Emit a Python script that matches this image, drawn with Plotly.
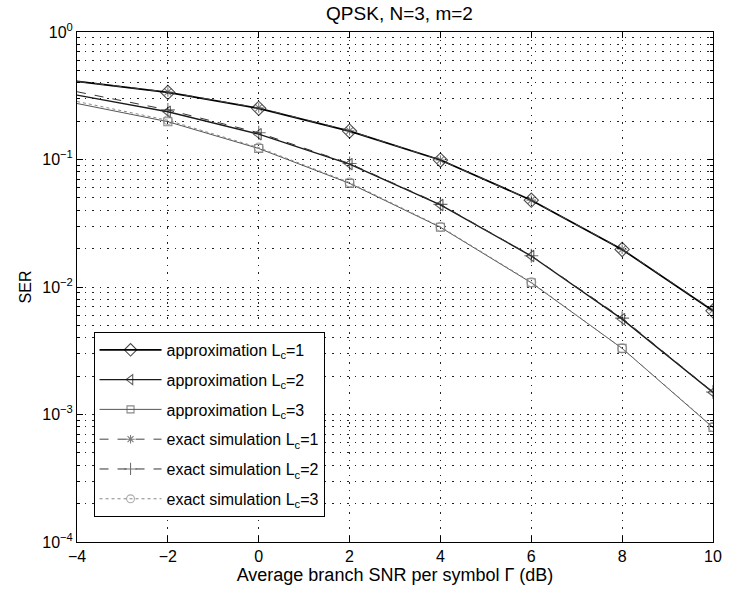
import plotly.graph_objects as go

snr_db = [-4, -2, 0, 2, 4, 6, 8, 10]
approx_L1 = [0.41, 0.336, 0.252, 0.167, 0.099, 0.048, 0.0197, 0.0065]
approx_L2 = [0.32, 0.237, 0.158, 0.092, 0.044, 0.0175, 0.0056, 0.00149]
approx_L3 = [0.275, 0.198, 0.122, 0.065, 0.0294, 0.0108, 0.0033, 0.00079]
exact_L1 = [0.41, 0.338, 0.254, 0.168, 0.099, 0.048, 0.0198, 0.0066]
exact_L2 = [0.34, 0.245, 0.162, 0.093, 0.0445, 0.0176, 0.0057, 0.0015]
exact_L3 = [0.285, 0.203, 0.124, 0.066, 0.0297, 0.0109, 0.0033, 0.0008]

names = [
    "approximation L<sub>c</sub>=1",
    "approximation L<sub>c</sub>=2",
    "approximation L<sub>c</sub>=3",
    "exact simulation L<sub>c</sub>=1",
    "exact simulation L<sub>c</sub>=2",
    "exact simulation L<sub>c</sub>=3",
]
series = [approx_L1, approx_L2, approx_L3, exact_L1, exact_L2, exact_L3]
styles = [
    dict(color="#000000", width=1.7, dash="solid", symbol="diamond-open", size=11),
    dict(color="#1a1a1a", width=1.4, dash="solid", symbol="triangle-left-open", size=10),
    dict(color="#555555", width=1.0, dash="solid", symbol="square-open", size=8),
    dict(color="#444444", width=1.0, dash="dash", symbol="asterisk-open", size=8),
    dict(color="#333333", width=1.0, dash="dash", symbol="cross-thin-open", size=10),
    dict(color="#888888", width=1.0, dash="dot", symbol="circle-open", size=9),
]

fig = go.Figure()
for i, (name, ys, st) in enumerate(zip(names, series, styles)):
    sizes = [0] + [st["size"]] * (len(snr_db) - 1)
    fig.add_trace(go.Scatter(
        x=snr_db, y=ys, name=name, mode="lines+markers", legendgroup="g%d" % i,
        line=dict(color=st["color"], width=st["width"], dash=st["dash"]),
        marker=dict(symbol=st["symbol"], size=sizes, color=st["color"],
                    line=dict(color=st["color"], width=1.1)),
    ))

font_family = "Liberation Sans, Arial, sans-serif"
decades = [-4, -3, -2, -1, 0]
tickvals = [10.0 ** d for d in decades]
ticktext = ["10<sup>\u2212%d</sup>" % (-d) if d < 0 else "10<sup>0</sup>" for d in decades]
minor_vals = [k * 10.0 ** d for d in decades[:-1] for k in range(2, 10)]
grid_dash = "1.5px,6px"
grid_color = "#222222"

fig.update_layout(
    width=733, height=596,
    margin=dict(l=77, r=11, t=32, b=54),
    paper_bgcolor="white", plot_bgcolor="white",
    font=dict(family=font_family, size=17, color="black"),
    title=dict(text="QPSK, N=3, m=2", x=(77 + 722) / 2 / 733, xanchor="center",
               y=1 - 13 / 596, yanchor="middle", font=dict(size=19)),
    showlegend=True,
    legend=dict(x=0.026, y=0.412, xanchor="left", yanchor="top",
                bordercolor="black", borderwidth=1, bgcolor="white",
                font=dict(size=16), tracegroupgap=6, itemwidth=62),
    xaxis=dict(
        range=[-4, 10], tickmode="array", tickvals=[-4, -2, 0, 2, 4, 6, 8, 10],
        ticktext=["\u22124", "\u22122", "0", "2", "4", "6", "8", "10"],
        showline=True, linecolor="black", linewidth=1, mirror="ticks",
        ticks="inside", ticklen=6, tickcolor="black",
        showgrid=True, gridcolor=grid_color, griddash=grid_dash, gridwidth=1,
        zeroline=False, tickfont=dict(size=16),
        title=dict(text="Average branch SNR per symbol \u0393 (dB)", font=dict(size=18), standoff=2),
    ),
    yaxis=dict(
        type="log", range=[-4, 0], tickmode="array", tickvals=tickvals, ticktext=ticktext,
        showline=True, linecolor="black", linewidth=1, mirror="ticks",
        ticks="inside", ticklen=6, tickcolor="black",
        showgrid=True, gridcolor=grid_color, griddash=grid_dash, gridwidth=1,
        zeroline=False, tickfont=dict(size=16),
        minor=dict(tickmode="array", tickvals=minor_vals, ticks="inside", ticklen=3,
                   tickcolor="black", showgrid=True, gridcolor=grid_color, griddash=grid_dash),
        title=dict(text="SER", font=dict(size=16), standoff=6),
    ),
)

fig.write_html("out.html")
